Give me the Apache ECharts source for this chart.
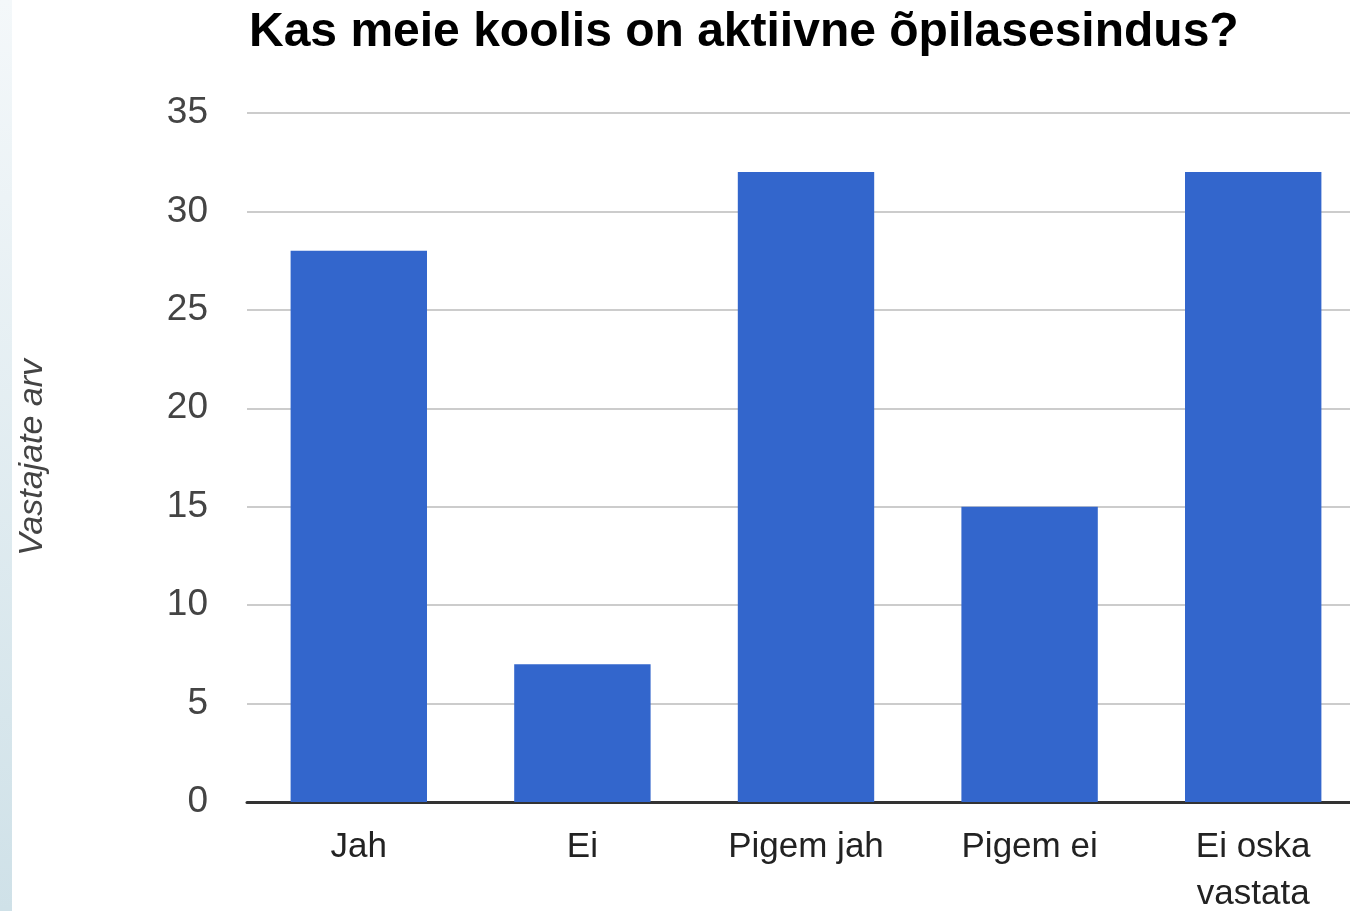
<!DOCTYPE html>
<html>
<head>
<meta charset="utf-8">
<script src="https://cdn.jsdelivr.net/npm/echarts@6/dist/echarts.min.js"></script>
<style>
  html, body { margin: 0; padding: 0; background: #fff; }
  #strip { position: absolute; left: 0; top: 0; width: 12px; height: 911px;
    background: linear-gradient(to bottom, #f4f8fa, #cfe1e8); }
  #main { position: absolute; left: 0; top: 0; width: 1350px; height: 911px; }
</style>
</head>
<body>
<div id="strip"></div>
<div id="main"></div>
<script>
// kategooriad ja vastuste arv
var categories = ['Jah', 'Ei', 'Pigem jah', 'Pigem ei', 'Ei oska\nvastata'];
var answers = [28, 7, 32, 15, 32];
var yTicks = { min: 0, max: 35, interval: 5 };

var chart = echarts.init(document.getElementById('main'));

var option = {
    animation: false,
    title: {
        text: 'Kas meie koolis on aktiivne õpilasesindus?',
        left: 244,
        top: 4,
        textStyle: {
            fontFamily: 'Liberation Sans',
            fontWeight: 'bold',
            fontSize: 48,
            color: '#000'
        }
    },
    grid: {
        left: 247,
        right: -15,
        top: 113,
        bottom: 109,
        outerBoundsMode: 'none'
    },
    xAxis: {
        type: 'category',
        data: categories,
        axisLine: {
            lineStyle: { color: '#333', width: 3 }
        },
        axisTick: { show: false },
        axisLabel: {
            margin: 22,
            fontFamily: 'Liberation Sans',
            fontSize: 35,
            lineHeight: 47,
            color: '#222'
        }
    },
    yAxis: {
        type: 'value',
        min: yTicks.min,
        max: yTicks.max,
        interval: yTicks.interval,
        name: 'Vastajate arv',
        nameLocation: 'middle',
        nameGap: 197,
        nameTextStyle: {
            fontFamily: 'Liberation Sans',
            fontStyle: 'italic',
            fontSize: 34,
            color: '#444'
        },
        axisLine: { show: false },
        axisTick: { show: false },
        axisLabel: {
            margin: 39,
            fontFamily: 'Liberation Sans',
            fontSize: 37,
            color: '#444'
        },
        splitLine: {
            lineStyle: { color: '#ccc', width: 2 }
        }
    },
    series: [{
        type: 'bar',
        data: answers,
        barWidth: '61%',
        itemStyle: { color: '#3366cc' }
    }]
};

chart.setOption(option);
</script>
</body>
</html>
